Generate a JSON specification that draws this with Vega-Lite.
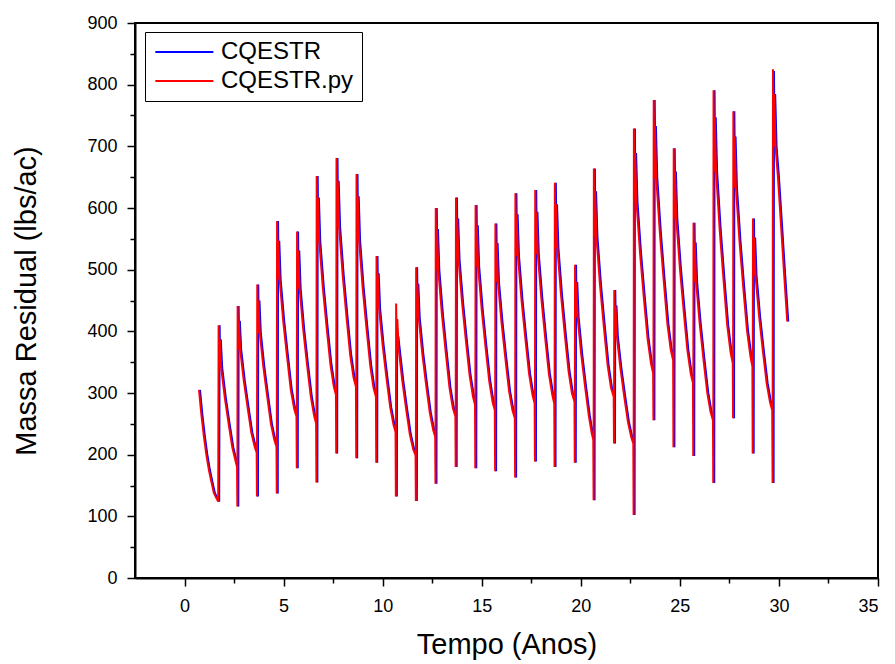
{
  "$schema": "https://vega.github.io/schema/vega-lite/v6.json",
  "width": 743,
  "height": 555,
  "autosize": {"type": "none"},
  "padding": {"left": 135, "top": 23, "right": 17, "bottom": 86},
  "background": "white",
  "config": {
    "view": {"stroke": "black", "strokeWidth": 2},
    "font": "Liberation Sans",
    "axis": {"grid": false, "domainColor": "black", "domainWidth": 2, "tickColor": "black", "tickWidth": 1.5, "labelColor": "black", "titleColor": "black", "labelFont": "Liberation Sans", "titleFont": "Liberation Sans", "titleFontWeight": "normal", "labelFontSize": 18, "titleFontSize": 29}
  },
  "data": {"values": [
      {"s":"CQESTR","t":0.78,"v":305},{"s":"CQESTR","t":0.90,"v":265},{"s":"CQESTR","t":1.03,"v":229},{"s":"CQESTR","t":1.15,"v":200},{"s":"CQESTR","t":1.28,"v":175},{"s":"CQESTR","t":1.40,"v":157},{"s":"CQESTR","t":1.53,"v":138},{"s":"CQESTR","t":1.65,"v":130},{"s":"CQESTR","t":1.75,"v":124},
      {"s":"CQESTR","t":1.77,"v":410},{"s":"CQESTR","t":1.80,"v":341},{"s":"CQESTR","t":1.83,"v":387},{"s":"CQESTR","t":1.90,"v":341},{"s":"CQESTR","t":2.08,"v":293},{"s":"CQESTR","t":2.27,"v":251},{"s":"CQESTR","t":2.46,"v":212},{"s":"CQESTR","t":2.63,"v":189},{"s":"CQESTR","t":2.70,"v":180},{"s":"CQESTR","t":2.715,"v":116},
      {"s":"CQESTR","t":2.73,"v":441},{"s":"CQESTR","t":2.76,"v":370},{"s":"CQESTR","t":2.79,"v":417},{"s":"CQESTR","t":2.86,"v":370},{"s":"CQESTR","t":3.04,"v":320},{"s":"CQESTR","t":3.23,"v":277},{"s":"CQESTR","t":3.42,"v":236},{"s":"CQESTR","t":3.59,"v":213},{"s":"CQESTR","t":3.69,"v":203},{"s":"CQESTR","t":3.705,"v":132},
      {"s":"CQESTR","t":3.72,"v":476},{"s":"CQESTR","t":3.75,"v":397},{"s":"CQESTR","t":3.78,"v":450},{"s":"CQESTR","t":3.85,"v":397},{"s":"CQESTR","t":4.03,"v":342},{"s":"CQESTR","t":4.22,"v":295},{"s":"CQESTR","t":4.41,"v":250},{"s":"CQESTR","t":4.58,"v":224},{"s":"CQESTR","t":4.69,"v":213},{"s":"CQESTR","t":4.705,"v":137},
      {"s":"CQESTR","t":4.72,"v":579},{"s":"CQESTR","t":4.75,"v":484},{"s":"CQESTR","t":4.78,"v":547},{"s":"CQESTR","t":4.85,"v":484},{"s":"CQESTR","t":5.03,"v":417},{"s":"CQESTR","t":5.22,"v":360},{"s":"CQESTR","t":5.41,"v":306},{"s":"CQESTR","t":5.58,"v":275},{"s":"CQESTR","t":5.70,"v":262},{"s":"CQESTR","t":5.715,"v":178},
      {"s":"CQESTR","t":5.73,"v":562},{"s":"CQESTR","t":5.76,"v":469},{"s":"CQESTR","t":5.79,"v":531},{"s":"CQESTR","t":5.86,"v":469},{"s":"CQESTR","t":6.04,"v":403},{"s":"CQESTR","t":6.23,"v":347},{"s":"CQESTR","t":6.42,"v":295},{"s":"CQESTR","t":6.59,"v":263},{"s":"CQESTR","t":6.69,"v":251},{"s":"CQESTR","t":6.705,"v":155},
      {"s":"CQESTR","t":6.72,"v":652},{"s":"CQESTR","t":6.75,"v":546},{"s":"CQESTR","t":6.78,"v":617},{"s":"CQESTR","t":6.85,"v":546},{"s":"CQESTR","t":7.03,"v":471},{"s":"CQESTR","t":7.22,"v":407},{"s":"CQESTR","t":7.41,"v":347},{"s":"CQESTR","t":7.58,"v":311},{"s":"CQESTR","t":7.69,"v":297},{"s":"CQESTR","t":7.705,"v":202},
      {"s":"CQESTR","t":7.72,"v":681},{"s":"CQESTR","t":7.75,"v":570},{"s":"CQESTR","t":7.78,"v":644},{"s":"CQESTR","t":7.85,"v":570},{"s":"CQESTR","t":8.03,"v":492},{"s":"CQESTR","t":8.22,"v":425},{"s":"CQESTR","t":8.41,"v":362},{"s":"CQESTR","t":8.58,"v":325},{"s":"CQESTR","t":8.70,"v":310},{"s":"CQESTR","t":8.715,"v":194},
      {"s":"CQESTR","t":8.73,"v":655},{"s":"CQESTR","t":8.76,"v":547},{"s":"CQESTR","t":8.79,"v":619},{"s":"CQESTR","t":8.86,"v":547},{"s":"CQESTR","t":9.04,"v":471},{"s":"CQESTR","t":9.23,"v":406},{"s":"CQESTR","t":9.42,"v":345},{"s":"CQESTR","t":9.59,"v":308},{"s":"CQESTR","t":9.71,"v":294},{"s":"CQESTR","t":9.725,"v":187},
      {"s":"CQESTR","t":9.74,"v":522},{"s":"CQESTR","t":9.77,"v":437},{"s":"CQESTR","t":9.80,"v":494},{"s":"CQESTR","t":9.87,"v":437},{"s":"CQESTR","t":10.05,"v":377},{"s":"CQESTR","t":10.24,"v":325},{"s":"CQESTR","t":10.43,"v":277},{"s":"CQESTR","t":10.60,"v":248},{"s":"CQESTR","t":10.70,"v":237},{"s":"CQESTR","t":10.715,"v":132},
      {"s":"CQESTR","t":10.73,"v":400},{"s":"CQESTR","t":10.76,"v":371},{"s":"CQESTR","t":10.79,"v":392},{"s":"CQESTR","t":10.86,"v":371},{"s":"CQESTR","t":11.04,"v":320},{"s":"CQESTR","t":11.23,"v":275},{"s":"CQESTR","t":11.42,"v":233},{"s":"CQESTR","t":11.59,"v":209},{"s":"CQESTR","t":11.71,"v":199},{"s":"CQESTR","t":11.725,"v":125},
      {"s":"CQESTR","t":11.74,"v":504},{"s":"CQESTR","t":11.77,"v":422},{"s":"CQESTR","t":11.80,"v":477},{"s":"CQESTR","t":11.87,"v":422},{"s":"CQESTR","t":12.05,"v":364},{"s":"CQESTR","t":12.24,"v":314},{"s":"CQESTR","t":12.43,"v":268},{"s":"CQESTR","t":12.60,"v":240},{"s":"CQESTR","t":12.70,"v":229},{"s":"CQESTR","t":12.715,"v":153},
      {"s":"CQESTR","t":12.73,"v":600},{"s":"CQESTR","t":12.76,"v":499},{"s":"CQESTR","t":12.79,"v":566},{"s":"CQESTR","t":12.86,"v":499},{"s":"CQESTR","t":13.04,"v":428},{"s":"CQESTR","t":13.23,"v":367},{"s":"CQESTR","t":13.42,"v":309},{"s":"CQESTR","t":13.59,"v":276},{"s":"CQESTR","t":13.72,"v":262},{"s":"CQESTR","t":13.735,"v":180},
      {"s":"CQESTR","t":13.75,"v":617},{"s":"CQESTR","t":13.78,"v":516},{"s":"CQESTR","t":13.81,"v":583},{"s":"CQESTR","t":13.88,"v":516},{"s":"CQESTR","t":14.06,"v":446},{"s":"CQESTR","t":14.25,"v":385},{"s":"CQESTR","t":14.44,"v":328},{"s":"CQESTR","t":14.61,"v":294},{"s":"CQESTR","t":14.71,"v":281},{"s":"CQESTR","t":14.725,"v":178},
      {"s":"CQESTR","t":14.74,"v":605},{"s":"CQESTR","t":14.77,"v":505},{"s":"CQESTR","t":14.80,"v":572},{"s":"CQESTR","t":14.87,"v":505},{"s":"CQESTR","t":15.05,"v":435},{"s":"CQESTR","t":15.24,"v":375},{"s":"CQESTR","t":15.43,"v":319},{"s":"CQESTR","t":15.60,"v":285},{"s":"CQESTR","t":15.71,"v":272},{"s":"CQESTR","t":15.725,"v":173},
      {"s":"CQESTR","t":15.74,"v":575},{"s":"CQESTR","t":15.77,"v":480},{"s":"CQESTR","t":15.80,"v":543},{"s":"CQESTR","t":15.87,"v":480},{"s":"CQESTR","t":16.05,"v":414},{"s":"CQESTR","t":16.24,"v":357},{"s":"CQESTR","t":16.43,"v":303},{"s":"CQESTR","t":16.60,"v":272},{"s":"CQESTR","t":16.72,"v":259},{"s":"CQESTR","t":16.735,"v":163},
      {"s":"CQESTR","t":16.75,"v":624},{"s":"CQESTR","t":16.78,"v":522},{"s":"CQESTR","t":16.81,"v":590},{"s":"CQESTR","t":16.88,"v":522},{"s":"CQESTR","t":17.06,"v":450},{"s":"CQESTR","t":17.25,"v":389},{"s":"CQESTR","t":17.44,"v":331},{"s":"CQESTR","t":17.61,"v":297},{"s":"CQESTR","t":17.72,"v":283},{"s":"CQESTR","t":17.735,"v":189},
      {"s":"CQESTR","t":17.75,"v":629},{"s":"CQESTR","t":17.78,"v":525},{"s":"CQESTR","t":17.81,"v":594},{"s":"CQESTR","t":17.88,"v":525},{"s":"CQESTR","t":18.06,"v":453},{"s":"CQESTR","t":18.25,"v":390},{"s":"CQESTR","t":18.44,"v":331},{"s":"CQESTR","t":18.61,"v":297},{"s":"CQESTR","t":18.71,"v":283},{"s":"CQESTR","t":18.725,"v":180},
      {"s":"CQESTR","t":18.74,"v":641},{"s":"CQESTR","t":18.77,"v":535},{"s":"CQESTR","t":18.80,"v":606},{"s":"CQESTR","t":18.87,"v":535},{"s":"CQESTR","t":19.05,"v":460},{"s":"CQESTR","t":19.24,"v":396},{"s":"CQESTR","t":19.43,"v":336},{"s":"CQESTR","t":19.60,"v":300},{"s":"CQESTR","t":19.73,"v":286},{"s":"CQESTR","t":19.745,"v":187},
      {"s":"CQESTR","t":19.76,"v":508},{"s":"CQESTR","t":19.79,"v":423},{"s":"CQESTR","t":19.82,"v":480},{"s":"CQESTR","t":19.89,"v":423},{"s":"CQESTR","t":20.07,"v":363},{"s":"CQESTR","t":20.26,"v":312},{"s":"CQESTR","t":20.45,"v":264},{"s":"CQESTR","t":20.60,"v":235},{"s":"CQESTR","t":20.68,"v":224},{"s":"CQESTR","t":20.695,"v":126},
      {"s":"CQESTR","t":20.71,"v":664},{"s":"CQESTR","t":20.74,"v":553},{"s":"CQESTR","t":20.77,"v":627},{"s":"CQESTR","t":20.84,"v":553},{"s":"CQESTR","t":21.02,"v":475},{"s":"CQESTR","t":21.21,"v":409},{"s":"CQESTR","t":21.40,"v":346},{"s":"CQESTR","t":21.57,"v":309},{"s":"CQESTR","t":21.71,"v":294},{"s":"CQESTR","t":21.725,"v":218},
      {"s":"CQESTR","t":21.74,"v":467},{"s":"CQESTR","t":21.77,"v":392},{"s":"CQESTR","t":21.80,"v":442},{"s":"CQESTR","t":21.87,"v":392},{"s":"CQESTR","t":22.05,"v":340},{"s":"CQESTR","t":22.24,"v":295},{"s":"CQESTR","t":22.43,"v":253},{"s":"CQESTR","t":22.60,"v":228},{"s":"CQESTR","t":22.70,"v":218},{"s":"CQESTR","t":22.715,"v":102},
      {"s":"CQESTR","t":22.73,"v":729},{"s":"CQESTR","t":22.76,"v":610},{"s":"CQESTR","t":22.79,"v":689},{"s":"CQESTR","t":22.86,"v":610},{"s":"CQESTR","t":23.04,"v":527},{"s":"CQESTR","t":23.23,"v":455},{"s":"CQESTR","t":23.42,"v":388},{"s":"CQESTR","t":23.59,"v":348},{"s":"CQESTR","t":23.70,"v":332},{"s":"CQESTR","t":23.715,"v":256},
      {"s":"CQESTR","t":23.73,"v":775},{"s":"CQESTR","t":23.76,"v":648},{"s":"CQESTR","t":23.79,"v":733},{"s":"CQESTR","t":23.86,"v":648},{"s":"CQESTR","t":24.04,"v":560},{"s":"CQESTR","t":24.23,"v":484},{"s":"CQESTR","t":24.42,"v":412},{"s":"CQESTR","t":24.59,"v":370},{"s":"CQESTR","t":24.71,"v":353},{"s":"CQESTR","t":24.725,"v":212},
      {"s":"CQESTR","t":24.74,"v":697},{"s":"CQESTR","t":24.77,"v":583},{"s":"CQESTR","t":24.80,"v":659},{"s":"CQESTR","t":24.87,"v":583},{"s":"CQESTR","t":25.05,"v":503},{"s":"CQESTR","t":25.24,"v":434},{"s":"CQESTR","t":25.43,"v":369},{"s":"CQESTR","t":25.60,"v":331},{"s":"CQESTR","t":25.71,"v":316},{"s":"CQESTR","t":25.725,"v":198},
      {"s":"CQESTR","t":25.74,"v":576},{"s":"CQESTR","t":25.77,"v":480},{"s":"CQESTR","t":25.80,"v":544},{"s":"CQESTR","t":25.87,"v":480},{"s":"CQESTR","t":26.05,"v":413},{"s":"CQESTR","t":26.24,"v":355},{"s":"CQESTR","t":26.43,"v":301},{"s":"CQESTR","t":26.60,"v":269},{"s":"CQESTR","t":26.72,"v":256},{"s":"CQESTR","t":26.735,"v":154},
      {"s":"CQESTR","t":26.75,"v":791},{"s":"CQESTR","t":26.78,"v":658},{"s":"CQESTR","t":26.81,"v":747},{"s":"CQESTR","t":26.88,"v":658},{"s":"CQESTR","t":27.06,"v":565},{"s":"CQESTR","t":27.25,"v":485},{"s":"CQESTR","t":27.44,"v":410},{"s":"CQESTR","t":27.61,"v":366},{"s":"CQESTR","t":27.72,"v":348},{"s":"CQESTR","t":27.735,"v":259},
      {"s":"CQESTR","t":27.75,"v":757},{"s":"CQESTR","t":27.78,"v":633},{"s":"CQESTR","t":27.81,"v":716},{"s":"CQESTR","t":27.88,"v":633},{"s":"CQESTR","t":28.06,"v":546},{"s":"CQESTR","t":28.25,"v":471},{"s":"CQESTR","t":28.44,"v":401},{"s":"CQESTR","t":28.61,"v":360},{"s":"CQESTR","t":28.71,"v":343},{"s":"CQESTR","t":28.725,"v":202},
      {"s":"CQESTR","t":28.74,"v":583},{"s":"CQESTR","t":28.77,"v":490},{"s":"CQESTR","t":28.80,"v":552},{"s":"CQESTR","t":28.87,"v":490},{"s":"CQESTR","t":29.05,"v":424},{"s":"CQESTR","t":29.24,"v":368},{"s":"CQESTR","t":29.43,"v":316},{"s":"CQESTR","t":29.60,"v":285},{"s":"CQESTR","t":29.71,"v":272},{"s":"CQESTR","t":29.73,"v":154},
      {"s":"CQESTR","t":29.75,"v":822},{"s":"CQESTR","t":29.78,"v":700},{"s":"CQESTR","t":29.81,"v":785},{"s":"CQESTR","t":29.88,"v":700},{"s":"CQESTR","t":30.00,"v":650},{"s":"CQESTR","t":30.15,"v":575},{"s":"CQESTR","t":30.31,"v":494},{"s":"CQESTR","t":30.47,"v":416},
      {"s":"CQESTR.py","t":0.73,"v":305},{"s":"CQESTR.py","t":0.85,"v":265},{"s":"CQESTR.py","t":0.98,"v":229},{"s":"CQESTR.py","t":1.10,"v":200},{"s":"CQESTR.py","t":1.23,"v":175},{"s":"CQESTR.py","t":1.35,"v":157},{"s":"CQESTR.py","t":1.48,"v":138},{"s":"CQESTR.py","t":1.60,"v":130},{"s":"CQESTR.py","t":1.70,"v":124},
      {"s":"CQESTR.py","t":1.72,"v":410},{"s":"CQESTR.py","t":1.75,"v":341},{"s":"CQESTR.py","t":1.78,"v":387},{"s":"CQESTR.py","t":1.85,"v":341},{"s":"CQESTR.py","t":2.03,"v":293},{"s":"CQESTR.py","t":2.22,"v":251},{"s":"CQESTR.py","t":2.41,"v":212},{"s":"CQESTR.py","t":2.58,"v":189},{"s":"CQESTR.py","t":2.65,"v":180},{"s":"CQESTR.py","t":2.665,"v":116},
      {"s":"CQESTR.py","t":2.68,"v":441},{"s":"CQESTR.py","t":2.71,"v":370},{"s":"CQESTR.py","t":2.74,"v":417},{"s":"CQESTR.py","t":2.81,"v":370},{"s":"CQESTR.py","t":2.99,"v":320},{"s":"CQESTR.py","t":3.18,"v":277},{"s":"CQESTR.py","t":3.37,"v":236},{"s":"CQESTR.py","t":3.54,"v":213},{"s":"CQESTR.py","t":3.64,"v":203},{"s":"CQESTR.py","t":3.655,"v":132},
      {"s":"CQESTR.py","t":3.67,"v":476},{"s":"CQESTR.py","t":3.70,"v":397},{"s":"CQESTR.py","t":3.73,"v":450},{"s":"CQESTR.py","t":3.80,"v":397},{"s":"CQESTR.py","t":3.98,"v":342},{"s":"CQESTR.py","t":4.17,"v":295},{"s":"CQESTR.py","t":4.36,"v":250},{"s":"CQESTR.py","t":4.53,"v":224},{"s":"CQESTR.py","t":4.64,"v":213},{"s":"CQESTR.py","t":4.655,"v":137},
      {"s":"CQESTR.py","t":4.67,"v":579},{"s":"CQESTR.py","t":4.70,"v":484},{"s":"CQESTR.py","t":4.73,"v":547},{"s":"CQESTR.py","t":4.80,"v":484},{"s":"CQESTR.py","t":4.98,"v":417},{"s":"CQESTR.py","t":5.17,"v":360},{"s":"CQESTR.py","t":5.36,"v":306},{"s":"CQESTR.py","t":5.53,"v":275},{"s":"CQESTR.py","t":5.65,"v":262},{"s":"CQESTR.py","t":5.665,"v":178},
      {"s":"CQESTR.py","t":5.68,"v":562},{"s":"CQESTR.py","t":5.71,"v":469},{"s":"CQESTR.py","t":5.74,"v":531},{"s":"CQESTR.py","t":5.81,"v":469},{"s":"CQESTR.py","t":5.99,"v":403},{"s":"CQESTR.py","t":6.18,"v":347},{"s":"CQESTR.py","t":6.37,"v":295},{"s":"CQESTR.py","t":6.54,"v":263},{"s":"CQESTR.py","t":6.64,"v":251},{"s":"CQESTR.py","t":6.655,"v":155},
      {"s":"CQESTR.py","t":6.67,"v":652},{"s":"CQESTR.py","t":6.70,"v":546},{"s":"CQESTR.py","t":6.73,"v":617},{"s":"CQESTR.py","t":6.80,"v":546},{"s":"CQESTR.py","t":6.98,"v":471},{"s":"CQESTR.py","t":7.17,"v":407},{"s":"CQESTR.py","t":7.36,"v":347},{"s":"CQESTR.py","t":7.53,"v":311},{"s":"CQESTR.py","t":7.64,"v":297},{"s":"CQESTR.py","t":7.655,"v":202},
      {"s":"CQESTR.py","t":7.67,"v":681},{"s":"CQESTR.py","t":7.70,"v":570},{"s":"CQESTR.py","t":7.73,"v":644},{"s":"CQESTR.py","t":7.80,"v":570},{"s":"CQESTR.py","t":7.98,"v":492},{"s":"CQESTR.py","t":8.17,"v":425},{"s":"CQESTR.py","t":8.36,"v":362},{"s":"CQESTR.py","t":8.53,"v":325},{"s":"CQESTR.py","t":8.65,"v":310},{"s":"CQESTR.py","t":8.665,"v":194},
      {"s":"CQESTR.py","t":8.68,"v":655},{"s":"CQESTR.py","t":8.71,"v":547},{"s":"CQESTR.py","t":8.74,"v":619},{"s":"CQESTR.py","t":8.81,"v":547},{"s":"CQESTR.py","t":8.99,"v":471},{"s":"CQESTR.py","t":9.18,"v":406},{"s":"CQESTR.py","t":9.37,"v":345},{"s":"CQESTR.py","t":9.54,"v":308},{"s":"CQESTR.py","t":9.66,"v":294},{"s":"CQESTR.py","t":9.675,"v":187},
      {"s":"CQESTR.py","t":9.69,"v":522},{"s":"CQESTR.py","t":9.72,"v":437},{"s":"CQESTR.py","t":9.75,"v":494},{"s":"CQESTR.py","t":9.82,"v":437},{"s":"CQESTR.py","t":10.00,"v":377},{"s":"CQESTR.py","t":10.19,"v":325},{"s":"CQESTR.py","t":10.38,"v":277},{"s":"CQESTR.py","t":10.55,"v":248},{"s":"CQESTR.py","t":10.65,"v":237},{"s":"CQESTR.py","t":10.665,"v":132},
      {"s":"CQESTR.py","t":10.68,"v":445},{"s":"CQESTR.py","t":10.71,"v":371},{"s":"CQESTR.py","t":10.74,"v":420},{"s":"CQESTR.py","t":10.81,"v":371},{"s":"CQESTR.py","t":10.99,"v":320},{"s":"CQESTR.py","t":11.18,"v":275},{"s":"CQESTR.py","t":11.37,"v":233},{"s":"CQESTR.py","t":11.54,"v":209},{"s":"CQESTR.py","t":11.66,"v":199},{"s":"CQESTR.py","t":11.675,"v":125},
      {"s":"CQESTR.py","t":11.69,"v":504},{"s":"CQESTR.py","t":11.72,"v":422},{"s":"CQESTR.py","t":11.75,"v":477},{"s":"CQESTR.py","t":11.82,"v":422},{"s":"CQESTR.py","t":12.00,"v":364},{"s":"CQESTR.py","t":12.19,"v":314},{"s":"CQESTR.py","t":12.38,"v":268},{"s":"CQESTR.py","t":12.55,"v":240},{"s":"CQESTR.py","t":12.65,"v":229},{"s":"CQESTR.py","t":12.665,"v":153},
      {"s":"CQESTR.py","t":12.68,"v":600},{"s":"CQESTR.py","t":12.71,"v":499},{"s":"CQESTR.py","t":12.74,"v":566},{"s":"CQESTR.py","t":12.81,"v":499},{"s":"CQESTR.py","t":12.99,"v":428},{"s":"CQESTR.py","t":13.18,"v":367},{"s":"CQESTR.py","t":13.37,"v":309},{"s":"CQESTR.py","t":13.54,"v":276},{"s":"CQESTR.py","t":13.67,"v":262},{"s":"CQESTR.py","t":13.685,"v":180},
      {"s":"CQESTR.py","t":13.70,"v":617},{"s":"CQESTR.py","t":13.73,"v":516},{"s":"CQESTR.py","t":13.76,"v":583},{"s":"CQESTR.py","t":13.83,"v":516},{"s":"CQESTR.py","t":14.01,"v":446},{"s":"CQESTR.py","t":14.20,"v":385},{"s":"CQESTR.py","t":14.39,"v":328},{"s":"CQESTR.py","t":14.56,"v":294},{"s":"CQESTR.py","t":14.66,"v":281},{"s":"CQESTR.py","t":14.675,"v":178},
      {"s":"CQESTR.py","t":14.69,"v":605},{"s":"CQESTR.py","t":14.72,"v":505},{"s":"CQESTR.py","t":14.75,"v":572},{"s":"CQESTR.py","t":14.82,"v":505},{"s":"CQESTR.py","t":15.00,"v":435},{"s":"CQESTR.py","t":15.19,"v":375},{"s":"CQESTR.py","t":15.38,"v":319},{"s":"CQESTR.py","t":15.55,"v":285},{"s":"CQESTR.py","t":15.66,"v":272},{"s":"CQESTR.py","t":15.675,"v":173},
      {"s":"CQESTR.py","t":15.69,"v":575},{"s":"CQESTR.py","t":15.72,"v":480},{"s":"CQESTR.py","t":15.75,"v":543},{"s":"CQESTR.py","t":15.82,"v":480},{"s":"CQESTR.py","t":16.00,"v":414},{"s":"CQESTR.py","t":16.19,"v":357},{"s":"CQESTR.py","t":16.38,"v":303},{"s":"CQESTR.py","t":16.55,"v":272},{"s":"CQESTR.py","t":16.67,"v":259},{"s":"CQESTR.py","t":16.685,"v":163},
      {"s":"CQESTR.py","t":16.70,"v":624},{"s":"CQESTR.py","t":16.73,"v":522},{"s":"CQESTR.py","t":16.76,"v":590},{"s":"CQESTR.py","t":16.83,"v":522},{"s":"CQESTR.py","t":17.01,"v":450},{"s":"CQESTR.py","t":17.20,"v":389},{"s":"CQESTR.py","t":17.39,"v":331},{"s":"CQESTR.py","t":17.56,"v":297},{"s":"CQESTR.py","t":17.67,"v":283},{"s":"CQESTR.py","t":17.685,"v":189},
      {"s":"CQESTR.py","t":17.70,"v":629},{"s":"CQESTR.py","t":17.73,"v":525},{"s":"CQESTR.py","t":17.76,"v":594},{"s":"CQESTR.py","t":17.83,"v":525},{"s":"CQESTR.py","t":18.01,"v":453},{"s":"CQESTR.py","t":18.20,"v":390},{"s":"CQESTR.py","t":18.39,"v":331},{"s":"CQESTR.py","t":18.56,"v":297},{"s":"CQESTR.py","t":18.66,"v":283},{"s":"CQESTR.py","t":18.675,"v":180},
      {"s":"CQESTR.py","t":18.69,"v":641},{"s":"CQESTR.py","t":18.72,"v":535},{"s":"CQESTR.py","t":18.75,"v":606},{"s":"CQESTR.py","t":18.82,"v":535},{"s":"CQESTR.py","t":19.00,"v":460},{"s":"CQESTR.py","t":19.19,"v":396},{"s":"CQESTR.py","t":19.38,"v":336},{"s":"CQESTR.py","t":19.55,"v":300},{"s":"CQESTR.py","t":19.68,"v":286},{"s":"CQESTR.py","t":19.695,"v":187},
      {"s":"CQESTR.py","t":19.71,"v":508},{"s":"CQESTR.py","t":19.74,"v":423},{"s":"CQESTR.py","t":19.77,"v":480},{"s":"CQESTR.py","t":19.84,"v":423},{"s":"CQESTR.py","t":20.02,"v":363},{"s":"CQESTR.py","t":20.21,"v":312},{"s":"CQESTR.py","t":20.40,"v":264},{"s":"CQESTR.py","t":20.55,"v":235},{"s":"CQESTR.py","t":20.63,"v":224},{"s":"CQESTR.py","t":20.645,"v":126},
      {"s":"CQESTR.py","t":20.66,"v":664},{"s":"CQESTR.py","t":20.69,"v":553},{"s":"CQESTR.py","t":20.72,"v":627},{"s":"CQESTR.py","t":20.79,"v":553},{"s":"CQESTR.py","t":20.97,"v":475},{"s":"CQESTR.py","t":21.16,"v":409},{"s":"CQESTR.py","t":21.35,"v":346},{"s":"CQESTR.py","t":21.52,"v":309},{"s":"CQESTR.py","t":21.66,"v":294},{"s":"CQESTR.py","t":21.675,"v":218},
      {"s":"CQESTR.py","t":21.69,"v":467},{"s":"CQESTR.py","t":21.72,"v":392},{"s":"CQESTR.py","t":21.75,"v":442},{"s":"CQESTR.py","t":21.82,"v":392},{"s":"CQESTR.py","t":22.00,"v":340},{"s":"CQESTR.py","t":22.19,"v":295},{"s":"CQESTR.py","t":22.38,"v":253},{"s":"CQESTR.py","t":22.55,"v":228},{"s":"CQESTR.py","t":22.65,"v":218},{"s":"CQESTR.py","t":22.665,"v":102},
      {"s":"CQESTR.py","t":22.68,"v":729},{"s":"CQESTR.py","t":22.71,"v":610},{"s":"CQESTR.py","t":22.74,"v":689},{"s":"CQESTR.py","t":22.81,"v":610},{"s":"CQESTR.py","t":22.99,"v":527},{"s":"CQESTR.py","t":23.18,"v":455},{"s":"CQESTR.py","t":23.37,"v":388},{"s":"CQESTR.py","t":23.54,"v":348},{"s":"CQESTR.py","t":23.65,"v":332},{"s":"CQESTR.py","t":23.665,"v":256},
      {"s":"CQESTR.py","t":23.68,"v":775},{"s":"CQESTR.py","t":23.71,"v":648},{"s":"CQESTR.py","t":23.74,"v":733},{"s":"CQESTR.py","t":23.81,"v":648},{"s":"CQESTR.py","t":23.99,"v":560},{"s":"CQESTR.py","t":24.18,"v":484},{"s":"CQESTR.py","t":24.37,"v":412},{"s":"CQESTR.py","t":24.54,"v":370},{"s":"CQESTR.py","t":24.66,"v":353},{"s":"CQESTR.py","t":24.675,"v":212},
      {"s":"CQESTR.py","t":24.69,"v":697},{"s":"CQESTR.py","t":24.72,"v":583},{"s":"CQESTR.py","t":24.75,"v":659},{"s":"CQESTR.py","t":24.82,"v":583},{"s":"CQESTR.py","t":25.00,"v":503},{"s":"CQESTR.py","t":25.19,"v":434},{"s":"CQESTR.py","t":25.38,"v":369},{"s":"CQESTR.py","t":25.55,"v":331},{"s":"CQESTR.py","t":25.66,"v":316},{"s":"CQESTR.py","t":25.675,"v":198},
      {"s":"CQESTR.py","t":25.69,"v":576},{"s":"CQESTR.py","t":25.72,"v":480},{"s":"CQESTR.py","t":25.75,"v":544},{"s":"CQESTR.py","t":25.82,"v":480},{"s":"CQESTR.py","t":26.00,"v":413},{"s":"CQESTR.py","t":26.19,"v":355},{"s":"CQESTR.py","t":26.38,"v":301},{"s":"CQESTR.py","t":26.55,"v":269},{"s":"CQESTR.py","t":26.67,"v":256},{"s":"CQESTR.py","t":26.685,"v":154},
      {"s":"CQESTR.py","t":26.70,"v":791},{"s":"CQESTR.py","t":26.73,"v":658},{"s":"CQESTR.py","t":26.76,"v":747},{"s":"CQESTR.py","t":26.83,"v":658},{"s":"CQESTR.py","t":27.01,"v":565},{"s":"CQESTR.py","t":27.20,"v":485},{"s":"CQESTR.py","t":27.39,"v":410},{"s":"CQESTR.py","t":27.56,"v":366},{"s":"CQESTR.py","t":27.67,"v":348},{"s":"CQESTR.py","t":27.685,"v":259},
      {"s":"CQESTR.py","t":27.70,"v":757},{"s":"CQESTR.py","t":27.73,"v":633},{"s":"CQESTR.py","t":27.76,"v":716},{"s":"CQESTR.py","t":27.83,"v":633},{"s":"CQESTR.py","t":28.01,"v":546},{"s":"CQESTR.py","t":28.20,"v":471},{"s":"CQESTR.py","t":28.39,"v":401},{"s":"CQESTR.py","t":28.56,"v":360},{"s":"CQESTR.py","t":28.66,"v":343},{"s":"CQESTR.py","t":28.675,"v":202},
      {"s":"CQESTR.py","t":28.69,"v":583},{"s":"CQESTR.py","t":28.72,"v":490},{"s":"CQESTR.py","t":28.75,"v":552},{"s":"CQESTR.py","t":28.82,"v":490},{"s":"CQESTR.py","t":29.00,"v":424},{"s":"CQESTR.py","t":29.19,"v":368},{"s":"CQESTR.py","t":29.38,"v":316},{"s":"CQESTR.py","t":29.55,"v":285},{"s":"CQESTR.py","t":29.66,"v":272},{"s":"CQESTR.py","t":29.68,"v":154},
      {"s":"CQESTR.py","t":29.70,"v":825},{"s":"CQESTR.py","t":29.73,"v":700},{"s":"CQESTR.py","t":29.76,"v":785},{"s":"CQESTR.py","t":29.83,"v":700},{"s":"CQESTR.py","t":29.95,"v":650},{"s":"CQESTR.py","t":30.10,"v":575},{"s":"CQESTR.py","t":30.26,"v":494},{"s":"CQESTR.py","t":30.42,"v":416}
  ]},
  "mark": {"type": "line", "strokeWidth": 2},
  "encoding": {
    "x": {
      "field": "t", "type": "quantitative",
      "scale": {"domain": [-2.5, 35], "nice": false, "zero": false},
      "axis": {
        "title": "Tempo (Anos)",
        "values": [0, 2.5, 5, 7.5, 10, 12.5, 15, 17.5, 20, 22.5, 25, 27.5, 30, 32.5, 35],
        "labelExpr": "datum.value % 5 === 0 ? datum.label : ''",
        "labelOverlap": false,
        "tickSize": {"condition": {"test": "datum.value % 5 === 0", "value": 8}, "value": 5},
        "labelPadding": 11,
        "titlePadding": 15
      }
    },
    "y": {
      "field": "v", "type": "quantitative",
      "scale": {"domain": [0, 900], "nice": false},
      "axis": {
        "title": "Massa Residual (lbs/ac)",
        "values": [0, 50, 100, 150, 200, 250, 300, 350, 400, 450, 500, 550, 600, 650, 700, 750, 800, 850, 900],
        "labelExpr": "datum.value % 100 === 0 ? datum.label : ''",
        "labelOverlap": false,
        "tickSize": {"condition": {"test": "datum.value % 100 === 0", "value": 8}, "value": 5},
        "labelPadding": 10,
        "titlePadding": 45
      }
    },
    "color": {
      "field": "s", "type": "nominal",
      "scale": {"domain": ["CQESTR", "CQESTR.py"], "range": ["#0000ff", "#ff0000"]},
      "legend": {
        "title": null, "orient": "none", "legendX": 10, "legendY": 9,
        "strokeColor": "black", "fillColor": "white", "padding": 8,
        "symbolType": "M-1,0H5", "symbolSize": 374, "symbolStrokeWidth": 2,
        "labelFontSize": 24, "labelFont": "Liberation Sans", "labelColor": "black",
        "rowPadding": 5, "labelOffset": 44
      }
    }
  }
}
